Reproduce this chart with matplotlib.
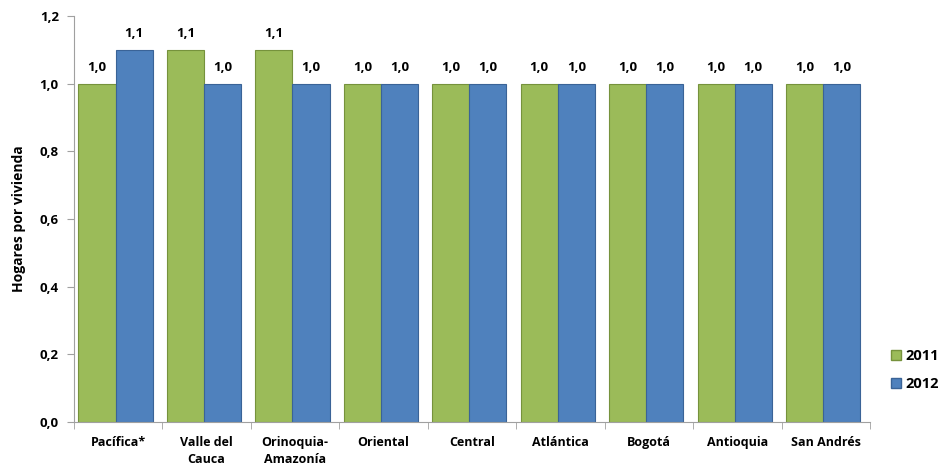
import matplotlib
matplotlib.use("Agg")
import matplotlib.pyplot as plt
import numpy as np
from matplotlib.patches import Patch

categories = ["Pacífica*", "Valle del\nCauca", "Orinoquia-\nAmazonía", "Oriental", "Central",
              "Atlántica", "Bogotá", "Antioquia", "San Andrés"]
vals_2011 = [1.0, 1.1, 1.1, 1.0, 1.0, 1.0, 1.0, 1.0, 1.0]
vals_2012 = [1.1, 1.0, 1.0, 1.0, 1.0, 1.0, 1.0, 1.0, 1.0]
yticks = [0.0, 0.2, 0.4, 0.6, 0.8, 1.0, 1.2]

plt.rcParams['font.family'] = ['Open Sans', 'DejaVu Sans']

fig = plt.figure(figsize=(9.41, 4.70), dpi=100)
ax = fig.add_axes([74/941, 1-422/470, (870-74)/941, (422-16)/470])

green = "#9BBB59"
blue = "#4F81BD"
x = np.arange(len(categories))
w = 0.42
off = -0.03
b1 = ax.bar(x - w/2 + off, vals_2011, w, color=green, edgecolor="#76923C", linewidth=0.8, label="2011")
b2 = ax.bar(x + w/2 + off, vals_2012, w, color=blue, edgecolor="#3A6397", linewidth=0.8, label="2012")

for bars, vals in ((b1, vals_2011), (b2, vals_2012)):
    for r, v in zip(bars, vals):
        ax.text(r.get_x() + r.get_width()/2, v + 0.028, f"{v:.1f}".replace(".", ","),
                ha="center", va="bottom", fontsize=9.5, fontweight="bold")

ax.set_xlim(-0.5, len(categories) - 0.5)
ax.set_ylim(0, 1.2)
ax.set_yticks(yticks)
ax.set_yticklabels([f"{t:.1f}".replace(".", ",") for t in yticks], fontsize=9.5, fontweight="bold")
ax.set_xticks(x)
ax.set_xticklabels(categories, fontsize=9, fontweight="bold", va="top", linespacing=1.45)
ax.set_xticks(np.arange(-0.5, len(categories)), minor=True)
ax.tick_params(axis="x", which="major", length=0, pad=10)
ax.tick_params(axis="x", which="minor", length=5, color="#A0A0A0")
ax.tick_params(axis="y", length=5, color="#A0A0A0", pad=6)
for s in ("top", "right"):
    ax.spines[s].set_visible(False)
for s in ("left", "bottom"):
    ax.spines[s].set_color("#A0A0A0")
ax.set_ylabel("Hogares por vivienda", fontsize=10, fontweight="bold", labelpad=10)

handles = [Patch(facecolor=green, edgecolor="#76923C", label="2011"),
           Patch(facecolor=blue, edgecolor="#3A6397", label="2012")]
fig.legend(handles=handles, loc="center left", bbox_to_anchor=(0.947, 1-370/470), frameon=False,
           prop={"size": 10.5, "weight": "bold"}, handlelength=0.7, handleheight=0.7,
           handletextpad=0.3, labelspacing=1.0, borderpad=0, borderaxespad=0)

fig.savefig("out.png", dpi=100)
